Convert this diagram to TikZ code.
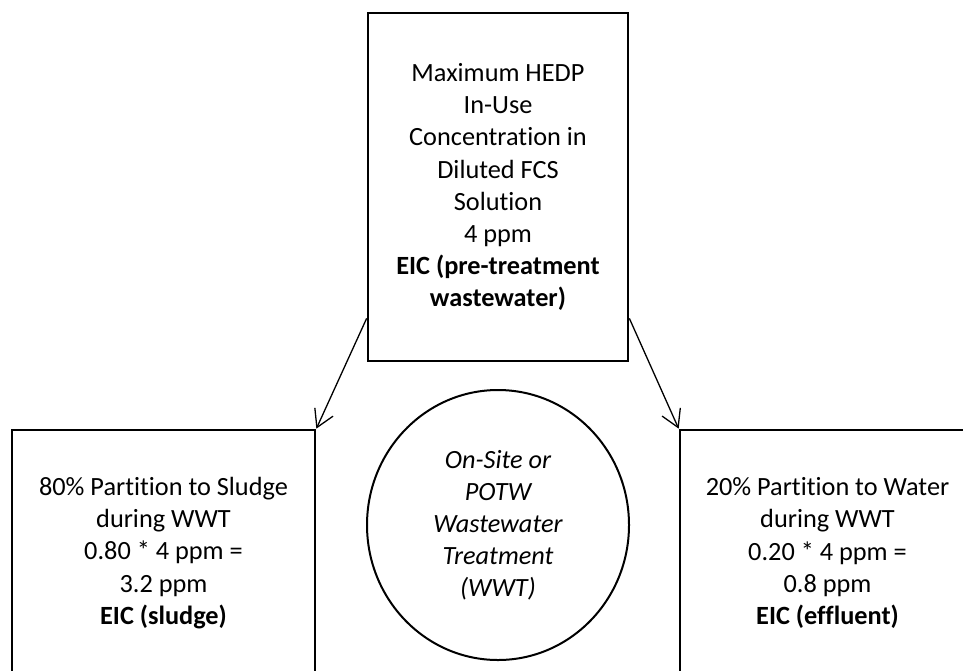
\documentclass[tikz,border=0pt]{standalone}
\usepackage{fontspec}
\setmainfont{Carlito}[Ligatures=NoCommon]
\usetikzlibrary{shapes.geometric,arrows.meta,calc}
\tikzset{
  txt/.style={font=\fontsize{26.3pt}{32.1pt}\selectfont, align=center, inner sep=0pt},
  boxnode/.style={txt, draw=black, line width=2.7pt, rectangle},
  wwt/.style={txt, draw=black, line width=2pt, ellipse},
  flow/.style={draw=black, line width=1.3pt, -{Straight Barb[length=17pt,width=20pt,line width=1.3pt]}}
}
\begin{document}
\begin{tikzpicture}[x=1pt,y=-1pt]
\useasboundingbox (0,0) rectangle (963,670);
\clip (0,0) rectangle (963,670);
\fill[white] (0,0) rectangle (963,670);
\node[boxnode, minimum width=260pt, minimum height=348pt] (top) at (498,187)
  {Maximum HEDP\\In-Use\\Concentration in\\Diluted FCS\\Solution\\4 ppm\\\textbf{EIC (pre-treatment}\\\textbf{wastewater)}};
\node[boxnode, minimum width=303pt, minimum height=246pt] (left) at (163.5,553)
  {80\% Partition to Sludge\\during WWT\\0.80 * 4 ppm =\\3.2 ppm\\\textbf{EIC (sludge)}};
\node[boxnode, minimum width=295pt, minimum height=246pt] (right) at (827.5,553)
  {20\% Partition to Water\\during WWT\\0.20 * 4 ppm =\\0.8 ppm\\\textbf{EIC (effluent)}};
\node[wwt, minimum width=262pt, minimum height=270pt] (circ) at (498,525)
  {\itshape On-Site or\\\itshape POTW\\\itshape Wastewater\\\itshape Treatment\\\itshape (WWT)};
\coordinate (a1) at ($(top.south west)+(0,-44)$);
\coordinate (a2) at ($(top.south east)+(0,-44)$);
\draw[flow] (a1) -- (left.north east);
\draw[flow] (a2) -- (right.north west);
\end{tikzpicture}
\end{document}
